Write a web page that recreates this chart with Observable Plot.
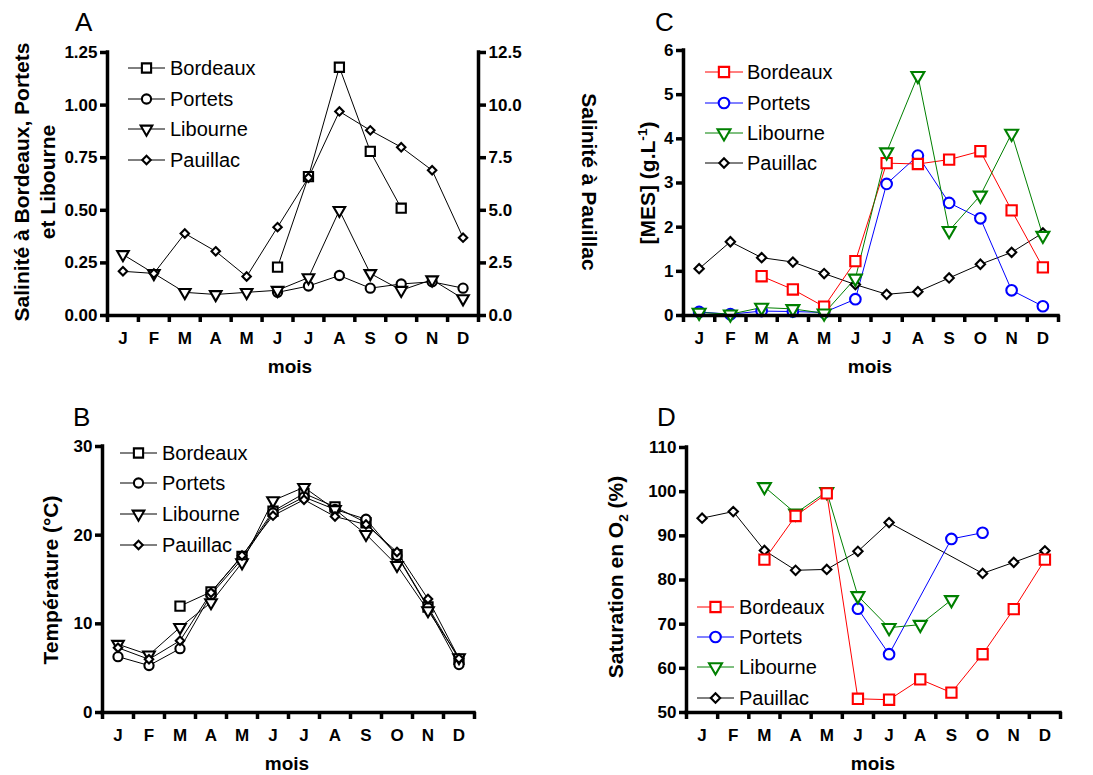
<!DOCTYPE html>
<html><head><meta charset="utf-8">
<script src="https://cdn.jsdelivr.net/npm/d3@7"></script>
<script src="https://cdn.jsdelivr.net/npm/@observablehq/plot@0.6"></script>
<style>
body{margin:0;background:#fff;}
#fig{position:relative;width:1093px;height:775px;overflow:hidden;background:#fff;font-family:"Liberation Sans",Arial,sans-serif;color:#000;}
.abs{position:absolute;white-space:nowrap;line-height:1;}
.plot-svg{position:absolute;}
</style></head><body><div id="fig"></div>
<script>
// ---------- data ----------
const months = ["J","F","M","A","M","J","J","A","S","O","N","D"];
const stations = ["Bordeaux","Portets","Libourne","Pauillac"];

// A : salinité (Pauillac on right axis, 0-12.5)
const salBordeaux = [null,null,null,null,null,0.23,0.66,1.18,0.78,0.51,null,null];
const salPortets  = [null,null,null,null,null,0.11,0.14,0.19,0.13,0.15,0.16,0.13];
const salLibourne = [0.29,0.20,0.11,0.10,0.11,0.12,0.18,0.50,0.20,0.12,0.17,0.08];
const salPauillac = [2.1,2.0,3.9,3.05,1.85,4.2,6.55,9.7,8.8,8.0,6.9,3.7];
const salTicks = [0,0.25,0.5,0.75,1.0,1.25];
const salRightTicks = [0,2.5,5,7.5,10,12.5];

// B : température
const tBordeaux = [null,null,12.0,13.6,17.6,22.7,24.7,23.2,21.4,17.8,11.9,6.0];
const tPortets  = [6.3,5.3,7.2,13.3,17.3,22.5,24.3,22.9,21.8,17.7,11.8,5.4];
const tLibourne = [7.7,6.5,9.6,12.4,16.9,23.9,25.4,22.9,20.1,16.6,11.5,6.2];
const tPauillac = [7.3,6.0,8.1,13.5,17.7,22.2,24.0,22.1,21.2,18.1,12.8,6.1];
const tTicks = [0,10,20,30];

// C : MES
const mBordeaux = [null,null,0.89,0.59,0.20,1.23,3.45,3.43,3.53,3.72,2.38,1.09];
const mPortets  = [0.08,0.03,0.10,0.09,0.07,0.37,2.98,3.62,2.55,2.20,0.57,0.21];
const mLibourne = [0.07,0.03,0.18,0.15,0.05,0.84,3.70,5.43,1.92,2.72,4.12,1.81];
const mPauillac = [1.06,1.67,1.31,1.21,0.95,0.70,0.48,0.54,0.85,1.16,1.43,1.87];
const mTicks = [0,1,2,3,4,5,6];

// D : saturation O2
const oBordeaux = [null,null,84.6,94.5,99.6,53.1,52.9,57.5,54.5,63.2,73.4,84.6];
const oPortets  = [null,null,null,null,null,73.5,63.2,null,89.3,90.7,null,null];
const oLibourne = [null,null,101.1,95.1,100.0,76.4,69.2,69.9,75.5,null,null,null];
const oPauillac = [94.0,95.5,86.7,82.2,82.4,86.5,93.0,null,null,81.5,84.0,86.6];
const oTicks = [50,60,70,80,90,100,110];

// ---------- styles ----------
const FONT = '"Liberation Sans", Arial, sans-serif';
const symbols = {
  Bordeaux: {symbol: "square", rotate: 0},
  Portets:  {symbol: "circle", rotate: 0},
  Libourne: {symbol: "triangle", rotate: 180},
  Pauillac: {symbol: "diamond2", rotate: 0}
};
const sizeSmall = {Bordeaux: 5.2, Portets: 4.6, Libourne: 4.3, Pauillac: 3.8};
const sizeBig   = {Bordeaux: 5.8, Portets: 5.3, Libourne: 4.8, Pauillac: 4.2};
const black = {Bordeaux:"#000", Portets:"#000", Libourne:"#000", Pauillac:"#000"};
const colored = {Bordeaux:"#ff0000", Portets:"#0000ff", Libourne:"#008000", Pauillac:"#000"};
const AXW = 3.5;
const DOTW = 2.1;

const fig = document.getElementById("fig");

function rowsOf(values, factor = 1) {
  return values.map((v, i) => ({x: i + 0.5, v: v == null ? null : v * factor})).filter(d => d.v != null);
}

function panel({left, top, width, height, mt, mr, mb, ml, ydomain, yticks, yfmt, series, colors, sizes, rightAxis}) {
  const marks = [];
  for (const s of series) {
    const data = rowsOf(s.values, s.factor || 1);
    marks.push(Plot.line(data, {x: "x", y: "v", stroke: colors[s.name], strokeWidth: 1}));
  }
  for (const s of series) {
    const data = rowsOf(s.values, s.factor || 1);
    marks.push(Plot.dot(data, {x: "x", y: "v", symbol: symbols[s.name].symbol, rotate: symbols[s.name].rotate,
      r: sizes[s.name], stroke: colors[s.name], strokeWidth: DOTW, fill: "white"}));
  }
  marks.push(
    Plot.axisY({ticks: yticks, tickSize: 7, tickPadding: 3, tickFormat: yfmt, strokeWidth: AXW, label: null,
      fontSize: 17, fontWeight: "bold"}),
    Plot.axisX({ticks: d3.range(13), tickSize: 7, tickFormat: () => "", strokeWidth: AXW, label: null}),
    Plot.axisX({ticks: months.map((m, i) => i + 0.5), tickSize: 0, tickPadding: 16,
      tickFormat: d => months[Math.floor(d)], label: null, fontSize: 17, fontWeight: "bold"}),
    Plot.ruleY([ydomain[0]], {strokeWidth: AXW, strokeLinecap: "square"}),
    Plot.ruleX([0], {strokeWidth: AXW, strokeLinecap: "square"})
  );
  if (rightAxis) {
    marks.push(
      Plot.ruleX([12], {strokeWidth: AXW, strokeLinecap: "square"}),
      Plot.axisY({anchor: "right", ticks: rightAxis.ticks.map(t => t / 10), tickSize: 7, tickPadding: 3,
        tickFormat: d => (d * 10).toFixed(1), strokeWidth: AXW, label: null, fontSize: 17, fontWeight: "bold"})
    );
  }
  const svg = Plot.plot({
    width, height, marginTop: mt, marginRight: mr, marginBottom: mb, marginLeft: ml,
    x: {domain: [0, 12], axis: null},
    y: {domain: ydomain, axis: null},
    style: {fontFamily: FONT, fontSize: "17px", fontWeight: "bold", background: "transparent", overflow: "visible"},
    marks
  });
  svg.classList.add("plot-svg");
  svg.style.left = left + "px";
  svg.style.top = top + "px";
  fig.appendChild(svg);
}

function label(html, cx, cy, {size = 19, weight = "bold", rotate = 0} = {}) {
  const d = document.createElement("div");
  d.className = "abs";
  d.innerHTML = html;
  d.style.left = cx + "px";
  d.style.top = cy + "px";
  d.style.fontSize = size + "px";
  d.style.fontWeight = weight;
  d.style.transform = `translate(-50%,-50%) rotate(${rotate}deg)`;
  fig.appendChild(d);
}

function letter(ch, x, baseline) {
  const d = document.createElement("div");
  d.className = "abs";
  d.textContent = ch;
  d.style.left = x + "px";
  d.style.top = (baseline - 23) + "px";
  d.style.fontSize = "26px";
  fig.appendChild(d);
}

function legend(x1, x2, xText, ys, colors, sizes) {
  stations.forEach((name, k) => {
    const w = x2 - x1;
    const ns = "http://www.w3.org/2000/svg";
    const svg = document.createElementNS(ns, "svg");
    svg.setAttribute("width", w + 4);
    svg.setAttribute("height", 20);
    svg.style.position = "absolute";
    svg.style.left = (x1 - 2) + "px";
    svg.style.top = (ys[k] - 10) + "px";
    const line = document.createElementNS(ns, "line");
    line.setAttribute("x1", 2); line.setAttribute("x2", w + 2);
    line.setAttribute("y1", 10); line.setAttribute("y2", 10);
    line.setAttribute("stroke", colors[name]); line.setAttribute("stroke-width", 1);
    svg.appendChild(line);
    const symMap = {square: d3.symbolSquare, circle: d3.symbolCircle, triangle: d3.symbolTriangle, diamond2: d3.symbolDiamond2};
    const r = sizes[name];
    const p = document.createElementNS(ns, "path");
    p.setAttribute("d", d3.symbol(symMap[symbols[name].symbol], Math.PI * r * r)());
    p.setAttribute("transform", `translate(${w / 2 + 2},10) rotate(${symbols[name].rotate})`);
    p.setAttribute("fill", "white");
    p.setAttribute("stroke", colors[name]);
    p.setAttribute("stroke-width", DOTW);
    svg.appendChild(p);
    fig.appendChild(svg);
    const t = document.createElement("div");
    t.className = "abs";
    t.textContent = name;
    t.style.left = xText + "px";
    t.style.top = ys[k] + "px";
    t.style.fontSize = "20px";
    t.style.transform = "translate(0,-50%)";
    fig.appendChild(t);
  });
}

// ---------- Panel A ----------
panel({left: 0, top: 0, width: 546, height: 380, mt: 52, mr: 68, mb: 65, ml: 107,
  ydomain: [0, 1.25], yticks: salTicks, yfmt: d3.format(".2f"),
  series: [
    {name: "Bordeaux", values: salBordeaux},
    {name: "Portets", values: salPortets},
    {name: "Libourne", values: salLibourne},
    {name: "Pauillac", values: salPauillac, factor: 0.1}
  ], colors: black, sizes: sizeSmall, rightAxis: {ticks: salRightTicks}});
letter("A", 75, 32);
label("Salinité à Bordeaux, Portets", 21, 182, {size: 21, rotate: -90});
label("et Libourne", 47, 182, {size: 21, rotate: -90});
label("Salinité à Pauillac", 589, 182, {size: 21, rotate: 90});
label("mois", 290, 366, {size: 19});
legend(128, 165, 170, [68, 99, 129, 160], black, sizeSmall);

// ---------- Panel B ----------
panel({left: 0, top: 380, width: 546, height: 395, mt: 66, mr: 72, mb: 63, ml: 102,
  ydomain: [0, 30], yticks: tTicks, yfmt: d3.format("d"),
  series: [
    {name: "Bordeaux", values: tBordeaux},
    {name: "Portets", values: tPortets},
    {name: "Libourne", values: tLibourne},
    {name: "Pauillac", values: tPauillac}
  ], colors: black, sizes: sizeSmall});
letter("B", 73, 427);
label("Température (°C)", 50, 580, {size: 21, rotate: -90});
label("mois", 287, 763, {size: 19});
legend(120, 157, 162, [453, 483, 514, 545], black, sizeSmall);

// ---------- Panel C ----------
panel({left: 546, top: 0, width: 547, height: 380, mt: 50, mr: 35, mb: 65, ml: 137,
  ydomain: [0, 6], yticks: mTicks, yfmt: d3.format("d"),
  series: [
    {name: "Pauillac", values: mPauillac},
    {name: "Portets", values: mPortets},
    {name: "Bordeaux", values: mBordeaux},
    {name: "Libourne", values: mLibourne}
  ], colors: colored, sizes: sizeBig});
letter("C", 655, 32);
label("[MES] (g.L<sup style='font-size:0.65em'>-1</sup>)", 647, 183, {size: 21, rotate: -90});
label("mois", 870, 366, {size: 19});
legend(705, 743, 747, [72, 103, 133, 163], colored, sizeBig);

// ---------- Panel D ----------
panel({left: 546, top: 380, width: 547, height: 395, mt: 67, mr: 33, mb: 63, ml: 140,
  ydomain: [50, 110], yticks: oTicks, yfmt: d3.format("d"),
  series: [
    {name: "Pauillac", values: oPauillac},
    {name: "Portets", values: oPortets},
    {name: "Libourne", values: oLibourne},
    {name: "Bordeaux", values: oBordeaux}
  ], colors: colored, sizes: sizeBig});
letter("D", 657, 427);
label("Saturation en O<sub style='font-size:0.65em'>2</sub> (%)", 618, 577, {size: 21, rotate: -90});
label("mois", 873, 763, {size: 19});
legend(697, 734, 739, [607, 637, 667, 698], colored, sizeBig);
</script></body></html>
